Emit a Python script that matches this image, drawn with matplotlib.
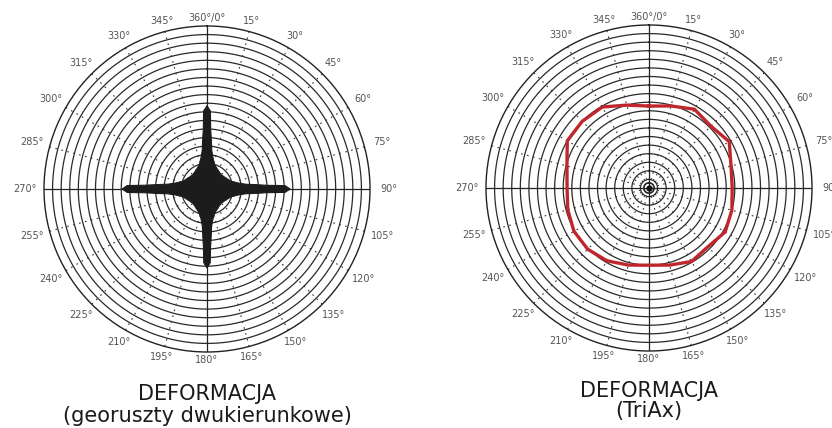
import numpy as np
import matplotlib
matplotlib.use("Agg")
import matplotlib.pyplot as plt

# ring grid: 19 rings, labels every 15 degrees
n_rings = 19
label_deg = list(range(0, 360, 15))
label_txt = ["360°/0°"] + [f"{d}°" for d in label_deg[1:]]

# georuszty dwukierunkowe - cross shaped deformation (ring units)
cross_deg = [0, 2.5, 3.5, 5, 7, 11, 17, 30, 45, 60, 73, 79, 83, 85, 86.5, 87.5,
             90, 92.5, 93.5, 95, 97, 101, 107, 120, 135, 150, 163, 169, 173, 175, 176.5, 177.5,
             180, 182.5, 183.5, 185, 187, 191, 197, 210, 225, 240, 253, 259, 263, 265, 266.5, 267.5,
             270, 272.5, 273.5, 275, 277, 281, 287, 300, 315, 330, 343, 349, 353, 355, 356.5, 357.5, 360]
cross_r = [9.7, 9.1, 7.0, 5.8, 4.55, 3.7, 3.0, 2.55, 2.35, 2.55, 3.0, 3.7, 4.55, 5.8, 7.0, 9.1,
           9.7, 9.1, 7.0, 5.8, 4.55, 3.7, 3.0, 2.55, 2.35, 2.55, 3.0, 3.6, 4.4, 5.6, 6.8, 8.6,
           9.2, 8.6, 6.8, 5.6, 4.4, 3.6, 3.0, 2.55, 2.35, 2.55, 3.0, 3.7, 4.6, 5.9, 7.2, 9.3,
           9.9, 9.3, 7.2, 5.9, 4.6, 3.7, 3.0, 2.55, 2.35, 2.55, 3.0, 3.7, 4.55, 5.8, 7.0, 9.1, 9.7]

# TriAx - nearly uniform deformation (ring units)
triax_deg = list(range(0, 361, 15))
triax_r = [9.55, 9.9, 10.6, 10.2, 10.8, 9.9, 9.7, 10.0, 10.25, 9.7, 9.9, 9.3, 9.0,
           9.3, 9.8, 10.1, 10.1, 9.8, 9.55, 9.9, 11.0, 11.0, 10.9, 10.0, 9.55]

titles = ["DEFORMACJA", "(georuszty dwukierunkowe)", "DEFORMACJA", "(TriAx)"]

W, H = 832, 428
fig = plt.figure(figsize=(W / 100, H / 100), dpi=100)


def polar_grid(cx, cy, rad):
    ax = fig.add_axes([(cx - rad) / W, (H - cy - rad) / H, 2 * rad / W, 2 * rad / H],
                      projection="polar")
    ax.set_theta_zero_location("N")
    ax.set_theta_direction(-1)
    ax.set_ylim(0, n_rings)
    ax.set_xticks([])
    ax.set_yticks([])
    ax.grid(False)
    ax.spines["polar"].set_color("#222222")
    ax.spines["polar"].set_linewidth(1.0)
    t = np.linspace(0, 2 * np.pi, 361)
    for r in range(1, n_rings):
        ax.plot(t, np.full_like(t, r), color="#2a2a2a", lw=0.9)
    # dashed spokes every 15 deg, solid main axes
    for i, d in enumerate(label_deg):
        th = np.deg2rad(d)
        if d % 90 == 0:
            ax.plot([th, th], [0, n_rings], color="#222222", lw=0.9)
        else:
            ax.plot([th, th], [1, n_rings], color="#333333", lw=0.8,
                    dashes=(1.5, 4))
        rl = 19.9 + 1.3 * abs(np.sin(th))
        ax.text(th, rl, label_txt[i], ha="center", va="center",
                fontsize=7, color="#555555", clip_on=False)
    ax.plot(t, np.full_like(t, 0.6), color="#222222", lw=1.2)
    ax.plot([0], [0], "o", color="#111111", ms=3.5)
    return ax


ax1 = polar_grid(207, 189, 163)
th = np.deg2rad(cross_deg)
ax1.fill(th, cross_r, color="#1c1c1c", lw=0.8, zorder=5)

ax2 = polar_grid(649, 188, 163)
ax2.plot(np.deg2rad(triax_deg), triax_r, color="#c0272d", lw=2.4, zorder=5)

for x, y, s in [(207, 400, titles[0]), (207, 422, titles[1]),
                (649, 397, titles[2]), (649, 417, titles[3])]:
    fig.text(x / W, 1 - y / H, s, ha="center", va="baseline",
             fontsize=15, color="#1a1a1a")

fig.savefig("out.png", dpi=100, facecolor="white")
